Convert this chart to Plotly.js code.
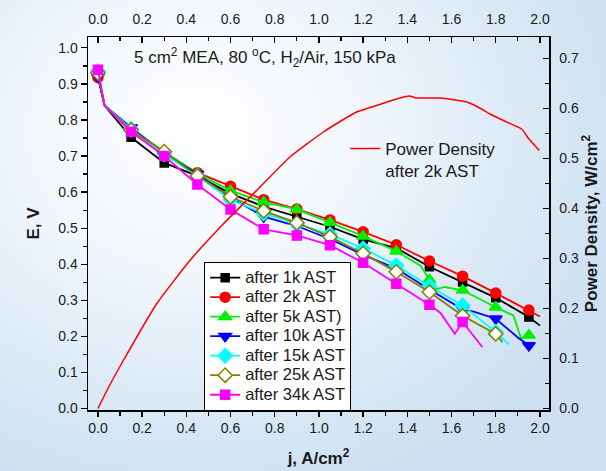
<!DOCTYPE html>
<html>
<head>
<meta charset="utf-8">
<script src="https://cdn.plot.ly/plotly-3.0.1.min.js"></script>
<style>
  html, body { margin: 0; padding: 0; }
  body {
    width: 606px; height: 471px; overflow: hidden;
    background: radial-gradient(ellipse 75% 80% at 32% 28%, #ffffff 0%, #f2f7fc 35%, #d9e8f5 75%, #cde0f1 100%);
  }
  #chart { width: 606px; height: 471px; }
</style>
</head>
<body>
<div id="chart"></div>
<script>
// Marker current densities (A/cm2)
var markerJ = [0, 0.15, 0.30, 0.45, 0.60, 0.75, 0.90, 1.05, 1.20, 1.35, 1.50, 1.65, 1.80, 1.95];

// Marker voltages (V)
var E1k  = [0.925, 0.752, 0.681, 0.645, 0.596, 0.560, 0.533, 0.504, 0.469, 0.445, 0.393, 0.351, 0.307, 0.254];
var E2k  = [0.918, 0.772, 0.705, 0.654, 0.616, 0.579, 0.553, 0.523, 0.490, 0.454, 0.409, 0.367, 0.320, 0.273];
var E5k  = [0.930, 0.775, 0.712, 0.652, 0.604, 0.572, 0.552, 0.516, 0.478, 0.436, 0.357, 0.328, 0.281, 0.203];
var E10k = [0.920, 0.779, 0.708, 0.650, 0.585, 0.532, 0.506, 0.470, 0.426, 0.388, 0.330, 0.275, 0.249, 0.175];
var E15k = [0.935, 0.775, 0.705, 0.645, 0.579, 0.541, 0.512, 0.483, 0.444, 0.397, 0.339, 0.286, 0.212];
var E25k = [0.930, 0.772, 0.712, 0.645, 0.587, 0.548, 0.515, 0.476, 0.430, 0.379, 0.323, 0.257, 0.207];
var E34k = [0.939, 0.767, 0.700, 0.621, 0.552, 0.497, 0.480, 0.453, 0.404, 0.346, 0.288, 0.240];

// Full measured lines (j, E) including points between markers
var L1kJ  = [0, 0.03, 0.15, 0.30, 0.45, 0.60, 0.75, 0.90, 1.05, 1.20, 1.35, 1.50, 1.65, 1.80, 1.95, 2.00];
var L1kE  = [0.925, 0.840, 0.752, 0.681, 0.645, 0.596, 0.560, 0.533, 0.504, 0.469, 0.445, 0.393, 0.351, 0.307, 0.254, 0.230];
var L2kJ  = [0, 0.03, 0.15, 0.30, 0.45, 0.60, 0.75, 0.90, 1.05, 1.20, 1.35, 1.50, 1.65, 1.80, 1.95, 2.00];
var L2kE  = [0.918, 0.840, 0.772, 0.705, 0.654, 0.616, 0.579, 0.553, 0.523, 0.490, 0.454, 0.409, 0.367, 0.320, 0.273, 0.255];
var L5kJ  = [0, 0.03, 0.15, 0.30, 0.45, 0.60, 0.75, 0.90, 1.05, 1.20, 1.35, 1.46, 1.50, 1.53, 1.57, 1.65, 1.80, 1.88, 1.915, 1.95];
var L5kE  = [0.930, 0.840, 0.775, 0.712, 0.652, 0.604, 0.572, 0.552, 0.516, 0.478, 0.436, 0.396, 0.357, 0.331, 0.337, 0.328, 0.281, 0.258, 0.194, 0.203];
var L10kJ = [0, 0.03, 0.15, 0.30, 0.45, 0.60, 0.75, 0.90, 1.05, 1.20, 1.35, 1.50, 1.65, 1.70, 1.80, 1.90, 1.95];
var L10kE = [0.920, 0.840, 0.779, 0.708, 0.650, 0.585, 0.532, 0.506, 0.470, 0.426, 0.388, 0.330, 0.275, 0.269, 0.249, 0.197, 0.175];
var L15kJ = [0, 0.03, 0.15, 0.30, 0.45, 0.60, 0.75, 0.90, 1.05, 1.20, 1.35, 1.50, 1.65, 1.80, 1.86];
var L15kE = [0.935, 0.840, 0.775, 0.705, 0.645, 0.579, 0.541, 0.512, 0.483, 0.444, 0.397, 0.339, 0.286, 0.212, 0.178];
var L25kJ = [0, 0.03, 0.15, 0.30, 0.45, 0.60, 0.75, 0.90, 1.05, 1.20, 1.35, 1.50, 1.65, 1.80, 1.83];
var L25kE = [0.930, 0.840, 0.772, 0.712, 0.645, 0.587, 0.548, 0.515, 0.476, 0.430, 0.379, 0.323, 0.257, 0.207, 0.184];
var L34kJ = [0, 0.03, 0.15, 0.30, 0.45, 0.60, 0.75, 0.90, 1.05, 1.20, 1.35, 1.50, 1.55, 1.615, 1.65, 1.74];
var L34kE = [0.939, 0.840, 0.767, 0.700, 0.621, 0.552, 0.497, 0.480, 0.453, 0.404, 0.346, 0.288, 0.265, 0.207, 0.240, 0.170];

// Power density after 2k AST (W/cm2)
var powerJ = [0, 0.05, 0.115, 0.265, 0.416, 0.567, 0.718, 0.869, 1.02, 1.17, 1.276, 1.35, 1.41, 1.44, 1.548, 1.668, 1.728, 1.774, 1.849, 1.917, 1.947, 1.997];
var powerP = [0, 0.044, 0.096, 0.209, 0.296, 0.369, 0.436, 0.503, 0.553, 0.593, 0.608, 0.619, 0.625, 0.621, 0.621, 0.613, 0.601, 0.589, 0.573, 0.559, 0.541, 0.516];

var seriesNames = ['after 1k AST', 'after 2k AST', 'after 5k AST)', 'after 10k AST', 'after 15k AST', 'after 25k AST', 'after 34k AST'];
var xTickVals = [0, 0.2, 0.4, 0.6, 0.8, 1.0, 1.2, 1.4, 1.6, 1.8, 2.0];

var series = [
  {name: seriesNames[0], lj: L1kJ,  le: L1kE,  me: E1k,  color: '#000000', symbol: 'square',       size: 8,  fill: '#000000'},
  {name: seriesNames[1], lj: L2kJ,  le: L2kE,  me: E2k,  color: '#ff0000', symbol: 'circle',       size: 10, fill: '#ff0000'},
  {name: seriesNames[2], lj: L5kJ,  le: L5kE,  me: E5k,  color: '#00f000', symbol: 'triangle-up',  size: 11, fill: '#00f000'},
  {name: seriesNames[3], lj: L10kJ, le: L10kE, me: E10k, color: '#0000ff', symbol: 'triangle-down',size: 11, fill: '#0000ff'},
  {name: seriesNames[4], lj: L15kJ, le: L15kE, me: E15k, color: '#00ffff', symbol: 'diamond',      size: 11, fill: '#00ffff'},
  {name: seriesNames[5], lj: L25kJ, le: L25kE, me: E25k, color: '#808000', symbol: 'diamond',      size: 11, fill: '#ffffff'},
  {name: seriesNames[6], lj: L34kJ, le: L34kE, me: E34k, color: '#ff00ff', symbol: 'square',       size: 9,  fill: '#ff00ff'}
];

var FAMILY = 'Liberation Sans, Arial, sans-serif';

var traces = [];
series.forEach(function (s) {
  traces.push({
    x: s.lj, y: s.le, mode: 'lines', type: 'scatter', showlegend: false,
    line: {color: s.color, width: 1.8}, hoverinfo: 'skip'
  });
  traces.push({
    x: markerJ.slice(0, s.me.length), y: s.me, mode: 'markers', type: 'scatter', showlegend: false,
    marker: {symbol: s.symbol, size: s.size, color: s.fill, line: {color: s.color, width: 1.5}}
  });
});
// legend entries
series.forEach(function (s) {
  traces.push({
    x: [null], y: [null], mode: 'lines+markers', type: 'scatter',
    name: '<span style="font-size:16.5px">' + s.name + '</span>', legend: 'legend',
    line: {color: s.color, width: 1.8},
    marker: {symbol: s.symbol, size: s.size, color: s.fill, line: {color: s.color, width: 1.5}}
  });
});
traces.push({
  x: powerJ, y: powerP, xaxis: 'x2', yaxis: 'y2', mode: 'lines', type: 'scatter',
  name: 'Power Density<br>after 2k AST', legend: 'legend2',
  line: {color: '#ff0000', width: 1.5, shape: 'spline', smoothing: 0.5}
});

var axisFont = {family: FAMILY, size: 14, color: '#1a1a1a'};
var titleFont = {family: FAMILY, size: 17, color: '#1a1a1a', weight: 'bold'};
var xRange = [-0.045, 2.041];

var layout = {
  width: 606, height: 471,
  margin: {l: 88, r: 57, t: 37, b: 61},
  paper_bgcolor: 'rgba(0,0,0,0)',
  plot_bgcolor: 'rgba(0,0,0,0)',
  font: axisFont,
  xaxis: {
    range: xRange, tickvals: xTickVals, tickformat: '.1f',
    ticks: 'outside', ticklen: 5, tickwidth: 1.3, tickcolor: '#000',
    minor: {dtick: 0.1, tick0: 0, ticks: 'outside', ticklen: 4, tickwidth: 1.3, tickcolor: '#000'},
    showline: true, linecolor: '#000', linewidth: 1.5, showgrid: false, zeroline: false,
    tickfont: axisFont,
    title: {text: 'j, A/cm<sup>2</sup>', font: titleFont, standoff: 17}
  },
  xaxis2: {
    range: xRange, overlaying: 'x', side: 'top', anchor: 'y', tickvals: xTickVals, tickformat: '.1f',
    ticks: 'inside', ticklen: 6, tickwidth: 1.3, tickcolor: '#000',
    minor: {dtick: 0.1, tick0: 0, ticks: 'inside', ticklen: 4, tickwidth: 1.3, tickcolor: '#000'},
    showline: true, linecolor: '#000', linewidth: 1.5, showgrid: false, zeroline: false,
    tickfont: axisFont, ticklabelstandoff: 6
  },
  yaxis: {
    range: [-0.004, 1.03], dtick: 0.1, tick0: 0, tickformat: '.1f',
    ticks: 'outside', ticklen: 6, tickwidth: 1.3, tickcolor: '#000',
    minor: {dtick: 0.05, tick0: 0, ticks: 'outside', ticklen: 4, tickwidth: 1.3, tickcolor: '#000'},
    showline: true, linecolor: '#000', linewidth: 1.5, showgrid: false, zeroline: false,
    tickfont: axisFont,
    title: {text: 'E, V', font: titleFont, standoff: 14}
  },
  yaxis2: {
    range: [-0.003, 0.743], overlaying: 'y', side: 'right', anchor: 'x', dtick: 0.1, tick0: 0, tickformat: '.1f',
    ticks: 'inside', ticklen: 6, tickwidth: 1.3, tickcolor: '#000',
    minor: {dtick: 0.05, tick0: 0, ticks: 'inside', ticklen: 4, tickwidth: 1.3, tickcolor: '#000'},
    showline: true, linecolor: '#000', linewidth: 1.5, showgrid: false, zeroline: false,
    tickfont: axisFont, ticklabelstandoff: 6,
    title: {text: 'Power Density, W/cm<sup>2</sup>', font: titleFont, standoff: 3}
  },
  legend: {
    x: 0.252, y: 0.397, xanchor: 'left', yanchor: 'top',
    bgcolor: '#ffffff', bordercolor: '#000000', borderwidth: 1,
    font: {family: FAMILY, size: 12.7, color: '#1a1a1a'},
    tracegroupgap: 0, itemclick: false
  },
  legend2: {
    x: 0.558, y: 0.748, xanchor: 'left', yanchor: 'top',
    bgcolor: 'rgba(0,0,0,0)', borderwidth: 0, valign: 'top',
    font: {family: FAMILY, size: 17, color: '#1a1a1a'}
  },
  annotations: [{
    xref: 'paper', yref: 'paper', x: 0.095, y: 0.946, xanchor: 'left', yanchor: 'middle',
    text: '5 cm<sup>2</sup> MEA, 80 <sup>o</sup>C, H<sub>2</sub>/Air, 150 kPa', showarrow: false,
    font: {family: FAMILY, size: 17, color: '#1a1a1a'}
  }]
};

Plotly.newPlot('chart', traces, layout, {displayModeBar: false, staticPlot: true});
</script>
</body>
</html>
